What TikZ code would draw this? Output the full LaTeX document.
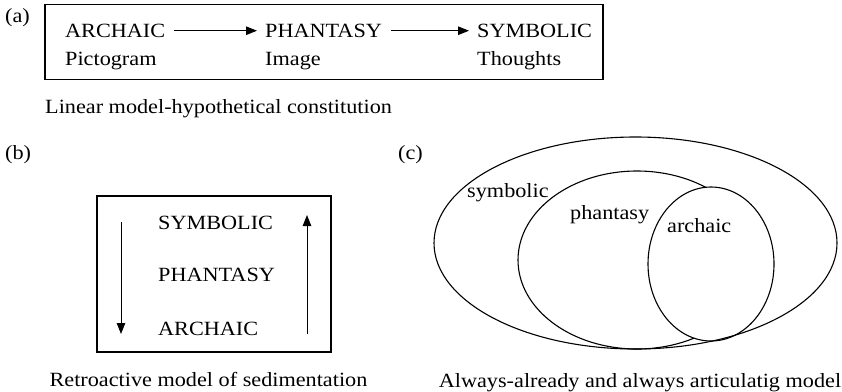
\documentclass[tikz,border=0pt]{standalone}
\usepackage{fontspec}
\setmainfont{Liberation Serif}[FakeStretch=1.1]
\usetikzlibrary{positioning, arrows.meta, backgrounds}
\tikzset{
  flow/.style={-{Triangle[length=11, width=8.5]}, draw=black, line width=1},
  frame/.style={draw=black, line width=1.3, inner sep=0},
  loop/.style={draw=black, line width=1.1},
  word/.style={anchor=base west},
  caption/.style={anchor=base},
  every node/.style={inner sep=0, font=\fontsize{20.2}{22}\selectfont}
}

\begin{document}
\begin{tikzpicture}[x=1pt, y=-1pt]
    \useasboundingbox (0,0) rectangle (842,391);
    \node[word] (taga) at (5,22) {(a)};
    \node[frame, minimum width=558, minimum height=74.5] (boxa) at (324,42) {};
    \node[word] (archaica) at (65,37.3) {ARCHAIC};
    \node[word] (pictogram) at (65,65) {Pictogram};
    \node[word] (phantasya) at (265,37.3) {PHANTASY};
    \node[word] (image) at (265,65) {Image};
    \node[word] (symbolica) at (477,37.3) {SYMBOLIC};
    \node[word] (thoughts) at (477,65) {Thoughts};
    \draw[flow, shorten <=9, shorten >=8] (archaica) -> (phantasya);
    \draw[flow, shorten <=9, shorten >=8] (phantasya) -> (symbolica);
    \node[word] (capa) at (45,113) {Linear model-hypothetical constitution};

    \node[word] (tagb) at (5,159) {(b)};
    \node[frame, minimum width=234, minimum height=156] (boxb) at (214,274) {};
    \node[word] (symbolicb) at (158,229.3) {SYMBOLIC};
    \node[word] (phantasyb) at (158,281.7) {PHANTASY};
    \node[word] (archaicb) at (158,335.7) {ARCHAIC};
    \coordinate (downtop) at (121,222);
    \coordinate (downend) at (121,334);
    \coordinate (upstart) at (307,334);
    \coordinate (upend) at (307,215);
    \draw[flow] (downtop) -> (downend);
    \draw[flow] (upstart) -> (upend);
    \node[caption] (capb) at (208.5,386) {Retroactive model of sedimentation};

    \node[word] (tagc) at (398,159) {(c)};
    \draw[loop] (637,260) ellipse [x radius=119, y radius=89];
    \draw[loop, fill=white] (711,264) ellipse [x radius=63, y radius=77];
    \draw[loop] (635.5,243) ellipse [x radius=201.5, y radius=106];
    \node[word] (symbolicc) at (467,197) {symbolic};
    \node[word] (phantasyc) at (570,219) {phantasy};
    \node[word] (archaicc) at (667,232) {archaic};
    \node[caption] (capc) at (640,387) {Always-already and always articulatig model};
\end{tikzpicture}
\end{document}
